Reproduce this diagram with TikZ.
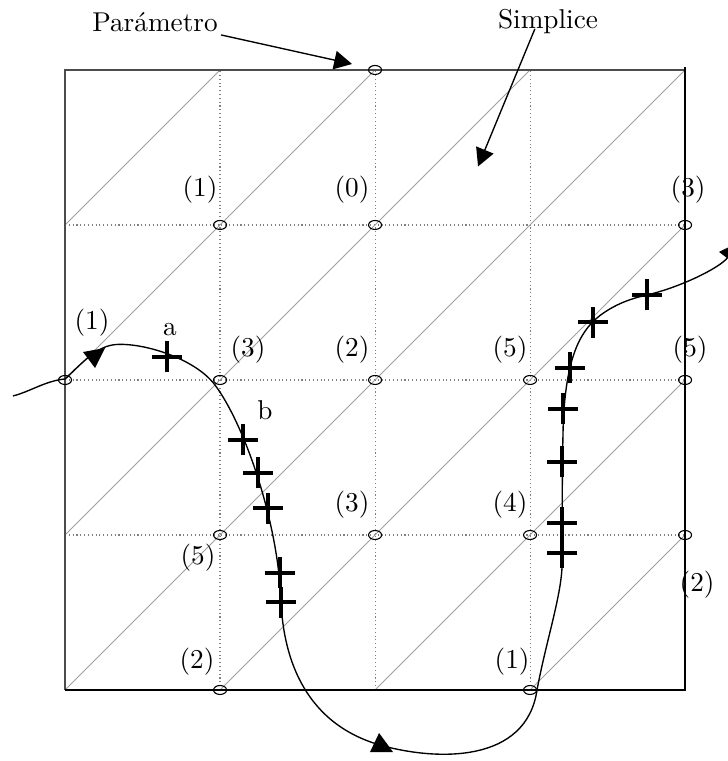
\documentclass[tikz,border=0pt]{standalone}
\usetikzlibrary{arrows.meta}
\begin{document}
\begin{tikzpicture}[x=1cm,y=1cm,
  malla/.style={gray,densely dotted,line width=0.4pt},
  diag/.style={gray!75,line width=0.3pt},
  cruz/.style={line width=1.3pt},
  flecha/.style={-{Triangle[length=0.23cm,width=0.24cm]},line width=0.5pt}]
\useasboundingbox (-0.839,-0.916) rectangle (8.542,8.903);
\foreach \k in {2,4,6} {
  \draw[malla] (\k,0) -- (\k,8);
  \draw[malla] (0,\k) -- (8,\k);
}
\foreach \i in {0,2,4,6} \foreach \j in {0,2,4,6}
  \draw[diag] (\i,\j) -- ++(2,2);
\draw[gray!60!black,line width=0.6pt] (0,0) -- (0,8) -- (8,8);
\draw[line width=0.6pt] (0,0) -- (8,0) -- (8,8.04);
\foreach \x/\y in {4/8,2/6,4/6,8/6,0/4,2/4,4/4,6/4,8/4,2/2,4/2,6/2,8/2,2/0,6/0}
  \draw[line width=0.4pt] (\x,\y) ellipse (0.084 and 0.058);
\foreach \x/\y/\t [count=\n] in {1.742/6.452/1, 3.703/6.452/0, 8.039/6.452/3,
    0.348/4.735/1, 2.361/4.387/3, 3.703/4.387/2, 5.742/4.387/5, 8.065/4.387/5,
    3.703/2.387/3, 5.742/2.387/4, 1.716/1.703/5, 8.155/1.355/2,
    1.703/0.361/2, 5.768/0.361/1}
  \node (v\n) at (\x,\y) {(\t)};
\node (a) at (1.355,4.645) {a};
\node (b) at (2.581,3.613) {b};
\node[inner sep=1pt] (param) at (1.161,8.619) {Parámetro};
\node[inner sep=1pt] (simp) at (6.232,8.619) {Simplice};
\coordinate (paramtip) at (3.703,8.077);
\coordinate (simptip) at (5.329,6.755);
\draw[flecha] (param.south east) -- (paramtip);
\draw[flecha] ([xshift=-0.17cm]simp.base) -- (simptip);
\draw[-{Triangle[length=0.26cm,width=0.26cm]},line width=0.5pt]
  (-0.671,3.794) .. controls (-0.45,3.85) and (-0.25,3.99) .. (0,4.013)
  .. controls (0.3,4.3) and (0.45,4.46) .. (0.71,4.46)
  .. controls (1.1,4.46) and (1.70,4.25) .. (1.935,3.935)
  .. controls (2.3,3.45) and (2.75,2.2) .. (2.787,1.135)
  .. controls (2.82,0.4) and (3.1,-0.45) .. (4.1,-0.72)
  .. controls (4.8,-0.91) and (5.95,-0.95) .. (6.09,0)
  .. controls (6.2,0.6) and (6.4,1.2) .. (6.413,1.6)
  .. controls (6.413,2.2) and (6.415,3.0) .. (6.43,3.5)
  .. controls (6.47,4.2) and (6.6,4.6) .. (6.9,4.83)
  .. controls (7.1,4.98) and (7.3,5.05) .. (7.51,5.097)
  .. controls (7.95,5.2) and (8.45,5.45) .. (8.7,5.78);
\fill (0.516,4.413) -- (0.232,4.361) -- (0.387,4.155) -- cycle;
\fill (3.935,-0.800) -- (4.232,-0.800) -- (4.052,-0.555) -- cycle;
\foreach \x/\y in {1.316/4.297, 2.297/3.226, 2.49/2.8, 2.619/2.348, 2.774/1.51,
    2.787/1.135, 6.413/1.768, 6.413/2.155, 6.413/2.942, 6.426/3.626, 6.516/4.155,
    6.813/4.748, 7.51/5.097}
  \draw[cruz] (\x-0.19,\y) -- (\x+0.19,\y) (\x,\y-0.2) -- (\x,\y+0.2);
\end{tikzpicture}
\end{document}
